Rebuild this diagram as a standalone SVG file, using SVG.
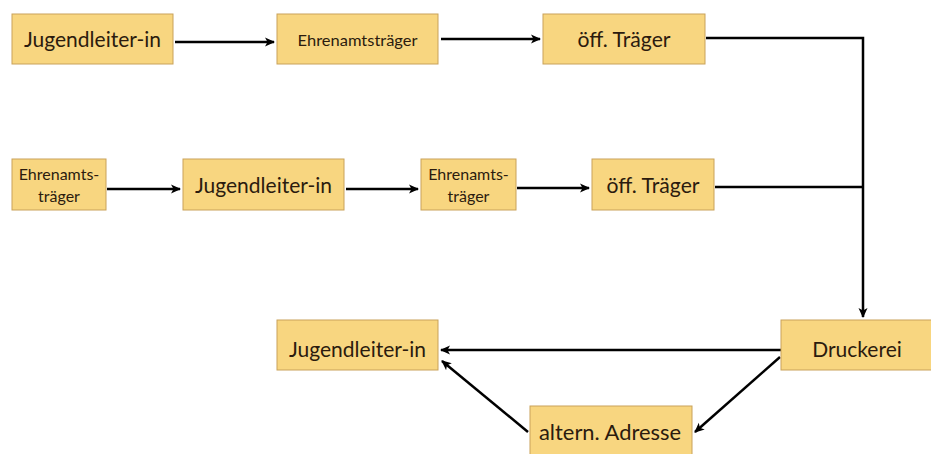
<svg xmlns="http://www.w3.org/2000/svg" width="931" height="454" viewBox="0 0 931 454">
<style>
.box{fill:#f8d680;stroke:#c9a25a;stroke-width:1}
.t{font-family:Lato,"Open Sans",sans-serif;fill:#2b1b0e;text-anchor:middle}
.l{font-size:22px}
.m{font-size:21px}
.s{font-size:16px}
.c{fill:none;stroke:#000;stroke-width:2.5}
</style>
<defs>
<marker id="ah" markerWidth="10" markerHeight="10" refX="9" refY="5" orient="auto" markerUnits="userSpaceOnUse">
<path d="M0,0.5 L10,5 L0,9.5 L2.5,5 Z" fill="#000"/>
</marker>
</defs>
<rect width="931" height="454" fill="#fff"/>
<g id="connectors">
<path class="c" d="M175,42 H274" marker-end="url(#ah)"/>
<path class="c" d="M441,39 H540" marker-end="url(#ah)"/>
<path class="c" d="M706,38 H863 V317" marker-end="url(#ah)"/>
<path class="c" d="M107,189 H180" marker-end="url(#ah)"/>
<path class="c" d="M346,189 H418" marker-end="url(#ah)"/>
<path class="c" d="M517,188 H589" marker-end="url(#ah)"/>
<path class="c" d="M715,187 H863"/>
<path class="c" d="M781,350 H441" marker-end="url(#ah)"/>
<path class="c" d="M780,357 L695,432" marker-end="url(#ah)"/>
<path class="c" d="M528,432 L442,361" marker-end="url(#ah)"/>
</g>
<g id="n1"><rect class="box" x="12" y="14" width="161" height="50"/><text class="t l" x="92.5" y="47" textLength="137" lengthAdjust="spacingAndGlyphs">Jugendleiter-in</text></g>
<g id="n2"><rect class="box" x="277" y="14" width="161" height="50"/><text class="t s" x="357.5" y="46" textLength="120" lengthAdjust="spacingAndGlyphs">Ehrenamtsträger</text></g>
<g id="n3"><rect class="box" x="543" y="14" width="162" height="50"/><text class="t l" x="624" y="47" textLength="93" lengthAdjust="spacingAndGlyphs">öff. Träger</text></g>
<g id="n4"><rect class="box" x="12" y="159" width="94" height="51"/><text class="t s" x="59" y="180">Ehrenamts-</text><text class="t s" x="59" y="202">träger</text></g>
<g id="n5"><rect class="box" x="183" y="159" width="161" height="51"/><text class="t l" x="263.5" y="193" textLength="137" lengthAdjust="spacingAndGlyphs">Jugendleiter-in</text></g>
<g id="n6"><rect class="box" x="421" y="159" width="95" height="51"/><text class="t s" x="468.5" y="180">Ehrenamts-</text><text class="t s" x="468.5" y="202">träger</text></g>
<g id="n7"><rect class="box" x="592" y="159" width="122" height="51"/><text class="t l" x="653" y="193" textLength="93" lengthAdjust="spacingAndGlyphs">öff. Träger</text></g>
<g id="n8"><rect class="box" x="277" y="320" width="161" height="50"/><text class="t m" x="357.5" y="357">Jugendleiter-in</text></g>
<g id="n9"><rect class="box" x="781" y="320" width="160" height="50"/><text class="t m" x="857" y="357">Druckerei</text></g>
<g id="n10"><rect class="box" x="530" y="406" width="162" height="58"/><text class="t m" x="610" y="440" textLength="142" lengthAdjust="spacingAndGlyphs">altern. Adresse</text></g>
</svg>
